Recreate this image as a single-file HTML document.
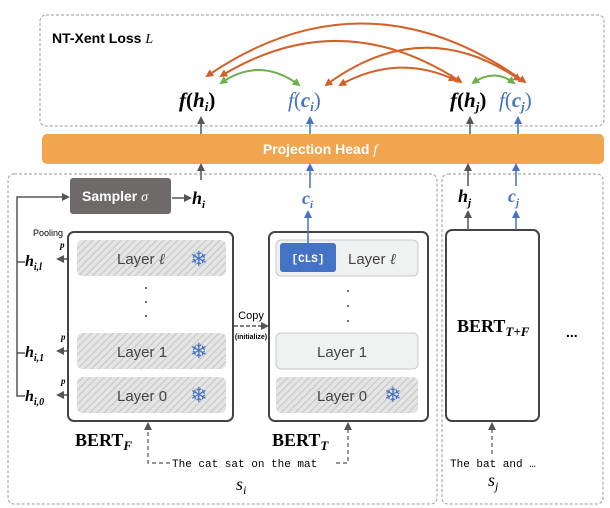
<!DOCTYPE html>
<html><head><meta charset="utf-8"><style>
html,body{margin:0;padding:0;background:#fff;}
svg{display:block;font-family:"Liberation Sans",sans-serif;}
.serif{font-family:"Liberation Serif",serif;}
.mono{font-family:"Liberation Mono",monospace;}
</style></head><body>
<svg width="610" height="508" viewBox="0 0 610 508" xmlns="http://www.w3.org/2000/svg">
<defs>
<pattern id="hatch" width="5" height="5" patternUnits="userSpaceOnUse" patternTransform="rotate(45)">
<rect width="5" height="5" fill="#e4e4e4"/><line x1="0" y1="0" x2="0" y2="5" stroke="#c4c4c4" stroke-width="2"/>
</pattern>
<marker id="ao" markerWidth="8" markerHeight="8" refX="6" refY="4" orient="auto-start-reverse" markerUnits="userSpaceOnUse"><path d="M0,0 L8,4 L0,8 z" fill="#d4612a"/></marker>
<marker id="ag" markerWidth="8" markerHeight="8" refX="6" refY="4" orient="auto-start-reverse" markerUnits="userSpaceOnUse"><path d="M0,0 L8,4 L0,8 z" fill="#6ab04c"/></marker>
<marker id="ak" markerWidth="8" markerHeight="8" refX="6" refY="4" orient="auto" markerUnits="userSpaceOnUse"><path d="M0,0 L8,4 L0,8 z" fill="#555"/></marker>
<marker id="ab" markerWidth="8" markerHeight="8" refX="6" refY="4" orient="auto" markerUnits="userSpaceOnUse"><path d="M0,0 L8,4 L0,8 z" fill="#4472c4"/></marker>
</defs>

<rect x="40" y="15" width="564" height="111" rx="6" fill="none" stroke="#999" stroke-dasharray="3,2"/>
<text x="52" y="43" font-size="14" font-weight="bold">NT-Xent Loss <tspan class="serif" font-style="italic" font-weight="normal">L</tspan></text>

<path d="M525,82 Q365,-32 207,76" fill="none" stroke="#d4612a" stroke-width="2" marker-start="url(#ao)" marker-end="url(#ao)"/>
<path d="M461,82 Q341,3 221,76" fill="none" stroke="#d4612a" stroke-width="2" marker-start="url(#ao)" marker-end="url(#ao)"/>
<path d="M520,80 Q423,13 326,85" fill="none" stroke="#d4612a" stroke-width="2" marker-start="url(#ao)" marker-end="url(#ao)"/>
<path d="M455,80 Q398,53 340,85" fill="none" stroke="#d4612a" stroke-width="2" marker-start="url(#ao)" marker-end="url(#ao)"/>
<path d="M221,83 Q260,56 299,85" fill="none" stroke="#6ab04c" stroke-width="2" marker-start="url(#ag)" marker-end="url(#ag)"/>
<path d="M473,83 Q494,68 514,83" fill="none" stroke="#6ab04c" stroke-width="2" marker-start="url(#ag)" marker-end="url(#ag)"/>

<g class="serif" font-size="21" font-weight="bold">
<text x="179" y="107"><tspan font-style="italic">f</tspan>(<tspan font-style="italic">h</tspan><tspan font-size="13" dy="4" font-style="italic">i</tspan><tspan dy="-4">)</tspan></text>
<text x="288" y="107" fill="#4472c4"><tspan font-style="italic" font-weight="normal">f</tspan><tspan font-weight="normal">(</tspan><tspan font-style="italic">c</tspan><tspan font-size="13" dy="4" font-style="italic">i</tspan><tspan dy="-4" font-weight="normal">)</tspan></text>
<text x="450" y="107"><tspan font-style="italic">f</tspan>(<tspan font-style="italic">h</tspan><tspan font-size="13" dy="4" font-style="italic">j</tspan><tspan dy="-4">)</tspan></text>
<text x="499" y="107" fill="#4472c4"><tspan font-style="italic" font-weight="normal">f</tspan><tspan font-weight="normal">(</tspan><tspan font-style="italic">c</tspan><tspan font-size="13" dy="4" font-style="italic">j</tspan><tspan dy="-4" font-weight="normal">)</tspan></text>
</g>

<line x1="201" y1="134" x2="201" y2="118" stroke="#555" stroke-width="1.5" marker-end="url(#ak)"/>
<line x1="310" y1="134" x2="310" y2="118" stroke="#4472c4" stroke-width="1.5" marker-end="url(#ab)"/>
<line x1="470" y1="134" x2="470" y2="118" stroke="#555" stroke-width="1.5" marker-end="url(#ak)"/>
<line x1="518" y1="134" x2="518" y2="118" stroke="#4472c4" stroke-width="1.5" marker-end="url(#ab)"/>

<rect x="42" y="134" width="562" height="30" rx="5" fill="#f0a54e"/>
<text x="320" y="154" font-size="14" font-weight="bold" fill="#fff" text-anchor="middle">Projection Head <tspan class="serif" font-style="italic" font-weight="normal">f</tspan></text>

<rect x="8" y="174" width="429" height="330" rx="6" fill="none" stroke="#999" stroke-dasharray="3,2"/>
<rect x="442" y="174" width="161" height="330" rx="6" fill="none" stroke="#999" stroke-dasharray="3,2"/>

<line x1="201" y1="180" x2="201" y2="165" stroke="#555" stroke-width="1.5" marker-end="url(#ak)"/>
<line x1="310" y1="188" x2="310" y2="165" stroke="#4472c4" stroke-width="1.5" marker-end="url(#ab)"/>
<line x1="468" y1="186" x2="468" y2="165" stroke="#555" stroke-width="1.5" marker-end="url(#ak)"/>
<line x1="516" y1="186" x2="516" y2="165" stroke="#4472c4" stroke-width="1.5" marker-end="url(#ab)"/>

<rect x="70" y="178" width="101" height="36" rx="3" fill="#6e6a69"/>
<text x="82" y="201" font-size="14" font-weight="bold" fill="#fff">Sampler <tspan class="serif" font-style="italic" font-weight="normal">σ</tspan></text>
<line x1="172" y1="198" x2="190" y2="198" stroke="#555" stroke-width="1.5" marker-end="url(#ak)"/>
<text x="192" y="204" class="serif" font-size="18" font-weight="bold" font-style="italic">h<tspan font-size="11" dy="4">i</tspan></text>

<polyline points="25,396 17,396 17,197 68,197" fill="none" stroke="#555" stroke-width="1.5" marker-end="url(#ak)"/>
<line x1="17" y1="262" x2="25" y2="262" stroke="#555" stroke-width="1.5"/>
<line x1="17" y1="353" x2="25" y2="353" stroke="#555" stroke-width="1.5"/>
<text x="33" y="236" font-size="9">Pooling</text>
<g class="serif" font-size="9" font-style="italic" font-weight="bold">
<text x="60" y="248">p</text><text x="61" y="340">p</text><text x="61" y="384">p</text>
</g>
<g class="serif" font-size="16" font-weight="bold" font-style="italic">
<text x="25" y="266">h<tspan font-size="10" dy="4">i,l</tspan></text>
<text x="25" y="357">h<tspan font-size="10" dy="4">i,1</tspan></text>
<text x="25" y="401">h<tspan font-size="10" dy="4">i,0</tspan></text>
</g>
<line x1="76" y1="259" x2="58" y2="259" stroke="#555" stroke-width="1.5" marker-end="url(#ak)"/>
<line x1="76" y1="351" x2="58" y2="351" stroke="#555" stroke-width="1.5" marker-end="url(#ak)"/>
<line x1="76" y1="395" x2="58" y2="395" stroke="#555" stroke-width="1.5" marker-end="url(#ak)"/>

<rect x="68" y="232" width="165" height="189" rx="6" fill="#fff" stroke="#444" stroke-width="2"/>
<rect x="77" y="240" width="149" height="36" rx="5" fill="url(#hatch)"/>
<rect x="77" y="333" width="149" height="36" rx="5" fill="url(#hatch)"/>
<rect x="77" y="377" width="149" height="36" rx="5" fill="url(#hatch)"/>
<g font-size="15" fill="#444">
<text x="117" y="264">Layer  <tspan class="serif" font-style="italic">ℓ</tspan></text>
<text x="117" y="357">Layer  1</text>
<text x="117" y="401">Layer  0</text>
</g>
<g font-size="21" fill="#4472c4" font-family="DejaVu Sans">
<text x="190" y="266">❄</text><text x="190" y="358">❄</text><text x="190" y="402">❄</text>
</g>
<g fill="#444"><circle cx="146" cy="288" r="1"/><circle cx="146" cy="302" r="1"/><circle cx="146" cy="316" r="1"/></g>
<text x="75" y="446" class="serif" font-size="18" font-weight="bold">BERT<tspan font-size="13" dy="4" font-style="italic">F</tspan></text>

<line x1="234" y1="326" x2="267" y2="326" stroke="#555" stroke-width="1.5" stroke-dasharray="4,2" marker-end="url(#ak)"/>
<text x="251" y="319" font-size="11" text-anchor="middle">Copy</text>
<text x="251" y="339" font-size="7" font-weight="bold" text-anchor="middle">(initialize)</text>

<rect x="269" y="232" width="159" height="189" rx="6" fill="#fff" stroke="#444" stroke-width="2"/>
<rect x="276" y="240" width="142" height="36" rx="5" fill="#f0f1f1" stroke="#c8c8c8"/>
<rect x="280" y="243" width="56" height="29" rx="3" fill="#4472c4"/>
<text x="308" y="262" class="mono" font-size="11" font-weight="bold" fill="#fff" text-anchor="middle">[CLS]</text>
<text x="348" y="264" font-size="15" fill="#444">Layer  <tspan class="serif" font-style="italic">ℓ</tspan></text>
<rect x="276" y="333" width="142" height="36" rx="5" fill="#f0f1f1" stroke="#c8c8c8"/>
<text x="317" y="357" font-size="15" fill="#444">Layer  1</text>
<rect x="276" y="377" width="142" height="36" rx="5" fill="url(#hatch)"/>
<text x="317" y="401" font-size="15" fill="#444">Layer  0</text>
<text x="384" y="402" font-size="21" fill="#4472c4" font-family="DejaVu Sans">❄</text>
<g fill="#444"><circle cx="348" cy="291" r="1"/><circle cx="348" cy="306" r="1"/><circle cx="348" cy="321" r="1"/></g>
<line x1="308" y1="243" x2="308" y2="212" stroke="#4472c4" stroke-width="1.5" marker-end="url(#ab)"/>
<text x="302" y="204" class="serif" font-size="18" font-weight="bold" font-style="italic" fill="#4472c4">c<tspan font-size="11" dy="4">i</tspan></text>
<text x="272" y="446" class="serif" font-size="18" font-weight="bold">BERT<tspan font-size="13" dy="4" font-style="italic">T</tspan></text>

<polyline points="170,463 148,463 148,424" fill="none" stroke="#555" stroke-width="1.2" stroke-dasharray="4,3" marker-end="url(#ak)"/>
<polyline points="336,463 348,463 348,424" fill="none" stroke="#555" stroke-width="1.2" stroke-dasharray="4,3" marker-end="url(#ak)"/>
<text x="172" y="467" class="mono" font-size="11">The cat sat on the mat</text>
<text x="236" y="490" class="serif" font-size="18" font-style="italic">s<tspan font-size="12" dy="4">i</tspan></text>

<rect x="446" y="230" width="93" height="191" rx="6" fill="#fff" stroke="#444" stroke-width="2"/>
<text x="457" y="332" class="serif" font-size="18" font-weight="bold">BERT<tspan font-size="13" dy="4" font-style="italic">T+F</tspan></text>
<line x1="468" y1="230" x2="468" y2="212" stroke="#555" stroke-width="1.5" marker-end="url(#ak)"/>
<line x1="516" y1="230" x2="516" y2="212" stroke="#4472c4" stroke-width="1.5" marker-end="url(#ab)"/>
<text x="458" y="202" class="serif" font-size="18" font-weight="bold" font-style="italic">h<tspan font-size="11" dy="4">j</tspan></text>
<text x="508" y="202" class="serif" font-size="18" font-weight="bold" font-style="italic" fill="#4472c4">c<tspan font-size="11" dy="4">j</tspan></text>
<line x1="492" y1="454" x2="492" y2="424" stroke="#555" stroke-width="1.2" stroke-dasharray="4,3" marker-end="url(#ak)"/>
<text x="450" y="467" class="mono" font-size="11">The bat and …</text>
<text x="488" y="486" class="serif" font-size="18" font-style="italic">s<tspan font-size="12" dy="4">j</tspan></text>
<text x="566" y="337" font-size="14" font-weight="bold">...</text>
</svg>
</body></html>
